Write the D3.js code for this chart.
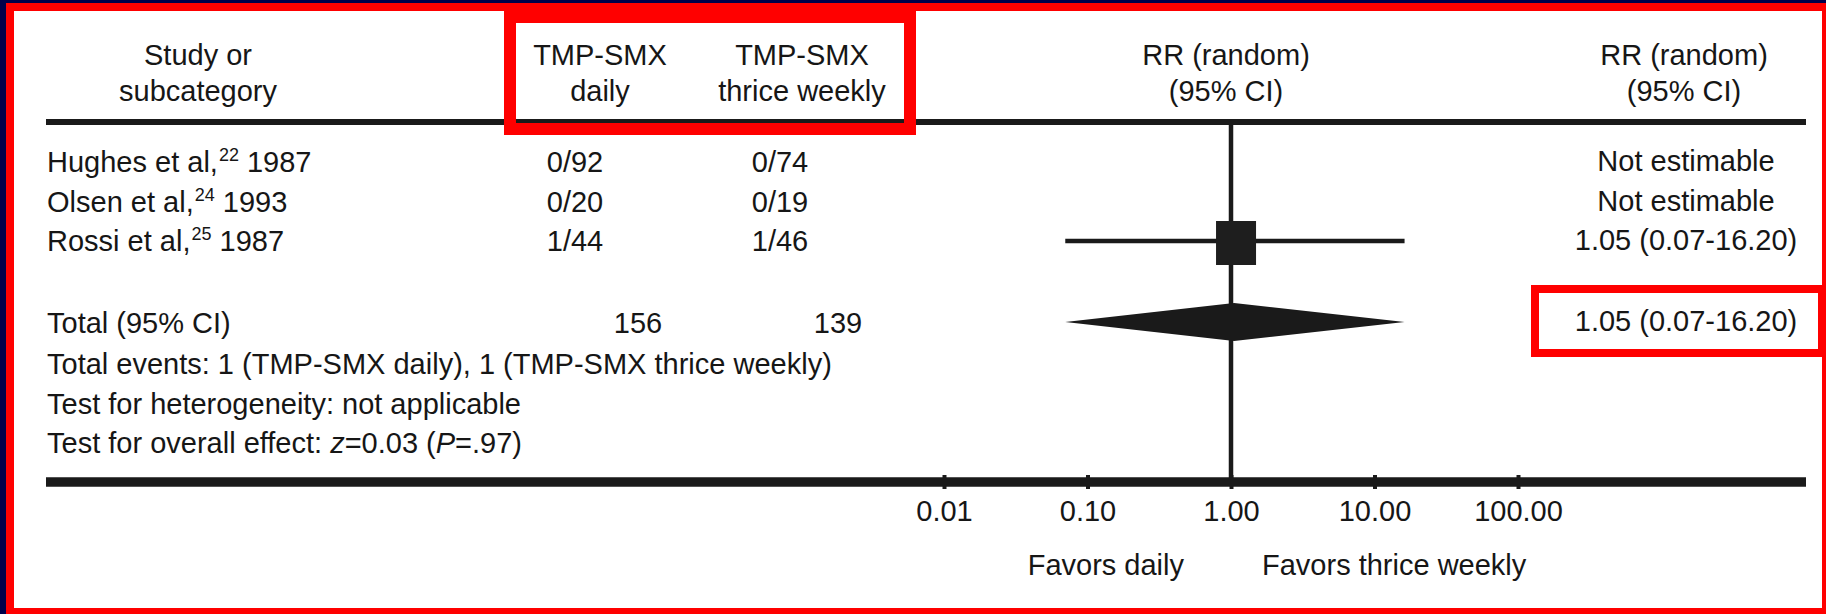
<!DOCTYPE html>
<html>
<head>
<meta charset="utf-8">
<script src="https://cdn.jsdelivr.net/npm/d3@7"></script>
<style>
  body { margin: 0; background: #fff; }
  #forestDiv text { font-family: "Liberation Sans", Arial, sans-serif; fill: #161616; }
</style>
</head>
<body>
<div id="forestDiv"></div>
<script>
// study rows
var studyNames   = ["Hughes et al,", "Olsen et al,", "Rossi et al,"];
var studyRefs    = ["22", "24", "25"];
var studyYears   = ["1987", "1993", "1987"];
var dailyEvents  = [0, 0, 1];
var dailyTotals  = [92, 20, 44];
var weeklyEvents = [0, 0, 1];
var weeklyTotals = [74, 19, 46];
var studyRR      = [null, null, 1.05];
var studyLow     = [null, null, 0.07];
var studyHigh    = [null, null, 16.20];

// pooled estimate
var totalRR   = 1.05;
var totalLow  = 0.07;
var totalHigh = 16.20;

var axisTicks = [0.01, 0.1, 1, 10, 100];
var favorLabels = ["Favors daily", "Favors thrice weekly"];
var footLines = [
    "Total events: 1 (TMP-SMX daily), 1 (TMP-SMX thrice weekly)",
    "Test for heterogeneity: not applicable",
    "Test for overall effect: _z_=0.03 (_P_=.97)"
];

var outerWidth = 1826, outerHeight = 614;
var fontSize = 29;
var f2 = d3.format(".2f");

var svg = d3.select("#forestDiv")
    .append("svg")
    .attr("width", outerWidth)
    .attr("height", outerHeight);

// frame: navy edge, red border, white panel
svg.append("rect").attr("width", outerWidth).attr("height", outerHeight).style("fill", "#00004a");
svg.append("rect").attr("x", 6).attr("y", 3).attr("width", outerWidth - 6).attr("height", outerHeight - 3).style("fill", "#ff0000");
svg.append("rect").attr("x", 14).attr("y", 11).attr("width", 1822 - 14).attr("height", 608 - 11).style("fill", "#fff");

// log scale for risk ratio
var x = d3.scaleLog()
    .domain([0.01, 100])
    .range([944, 1518]);

var rowY = d3.scalePoint()
    .domain(d3.range(studyNames.length))
    .range([162, 241]);

var totalY = 322;

function addText(tx, ty, str, anchor) {
    return svg.append("text")
        .attr("x", tx)
        .attr("y", ty)
        .attr("text-anchor", anchor || "middle")
        .style("font-size", fontSize + "px")
        .text(str);
}

// header
addText(198, 65, "Study or");
addText(198, 101, "subcategory");
addText(600, 65, "TMP-SMX");
addText(600, 101, "daily");
addText(802, 65, "TMP-SMX");
addText(802, 101, "thrice weekly");
addText(x(1) - 5, 65, "RR (random)");
addText(x(1) - 5, 101, "(95% CI)");
addText(1684, 65, "RR (random)");
addText(1684, 101, "(95% CI)");

// rules
svg.append("line").attr("x1", 46).attr("x2", 1806).attr("y1", 122).attr("y2", 122)
    .style("stroke", "#1a1a1a").style("stroke-width", 6);
svg.append("line").attr("x1", 46).attr("x2", 1806).attr("y1", 482).attr("y2", 482)
    .style("stroke", "#1a1a1a").style("stroke-width", 9.5);

// line of no effect
svg.append("line")
    .attr("x1", x(1)).attr("x2", x(1))
    .attr("y1", 124).attr("y2", 478)
    .style("stroke", "#1a1a1a").style("stroke-width", 4.5);

// study labels with superscript refs
var rows = d3.range(studyNames.length);

var labels = svg.selectAll(".studyLabel")
    .data(rows)
    .enter().append("text")
    .attr("class", "studyLabel")
    .attr("x", 47)
    .attr("y", function(i) { return rowY(i) + 10; })
    .style("font-size", fontSize + "px");
labels.append("tspan").text(function(i) { return studyNames[i]; });
labels.append("tspan")
    .attr("dx", 1)
    .attr("dy", -11)
    .style("font-size", "18px")
    .text(function(i) { return studyRefs[i]; });
labels.append("tspan")
    .attr("dy", 11)
    .text(function(i) { return " " + studyYears[i]; });

svg.selectAll(".dailyCell")
    .data(rows)
    .enter().append("text")
    .attr("class", "dailyCell")
    .attr("x", 575)
    .attr("y", function(i) { return rowY(i) + 10; })
    .attr("text-anchor", "middle")
    .style("font-size", fontSize + "px")
    .text(function(i) { return dailyEvents[i] + "/" + dailyTotals[i]; });

svg.selectAll(".weeklyCell")
    .data(rows)
    .enter().append("text")
    .attr("class", "weeklyCell")
    .attr("x", 780)
    .attr("y", function(i) { return rowY(i) + 10; })
    .attr("text-anchor", "middle")
    .style("font-size", fontSize + "px")
    .text(function(i) { return weeklyEvents[i] + "/" + weeklyTotals[i]; });

svg.selectAll(".rrCell")
    .data(rows)
    .enter().append("text")
    .attr("class", "rrCell")
    .attr("x", 1686)
    .attr("y", function(i) { return rowY(i) + 9; })
    .attr("text-anchor", "middle")
    .style("font-size", fontSize + "px")
    .text(function(i) {
        if (studyRR[i] == null) return "Not estimable";
        return f2(studyRR[i]) + " (" + f2(studyLow[i]) + "-" + f2(studyHigh[i]) + ")";
    });

// confidence intervals and boxes, only estimable studies
var estimable = rows.filter(function(i) { return studyRR[i] != null; });

svg.selectAll(".ciLine")
    .data(estimable)
    .enter().append("line")
    .attr("class", "ciLine")
    .attr("x1", function(i) { return x(studyLow[i]); })
    .attr("x2", function(i) { return x(studyHigh[i]); })
    .attr("y1", function(i) { return rowY(i); })
    .attr("y2", function(i) { return rowY(i); })
    .style("stroke", "#1a1a1a")
    .style("stroke-width", 4.5);

svg.selectAll(".studyBox")
    .data(estimable)
    .enter().append("rect")
    .attr("class", "studyBox")
    .attr("x", function(i) { return x(studyRR[i]) - 18; })
    .attr("y", function(i) { return rowY(i) - 20; })
    .attr("width", 40)
    .attr("height", 44)
    .style("fill", "#1e1e1e");

// total row
addText(47, totalY + 11, "Total (95% CI)", "start");
addText(638, totalY + 11, d3.sum(dailyTotals));
addText(838, totalY + 11, d3.sum(weeklyTotals));
addText(1686, totalY + 9, f2(totalRR) + " (" + f2(totalLow) + "-" + f2(totalHigh) + ")");

svg.append("path")
    .attr("d", "M" + x(totalLow) + "," + totalY +
               "L" + x(totalRR) + "," + (totalY - 19) +
               "L" + x(totalHigh) + "," + totalY +
               "L" + x(totalRR) + "," + (totalY + 19) + "Z")
    .style("fill", "#1a1a1a");

// footnotes, _x_ means italic
footLines.forEach(function(line, k) {
    var t = svg.append("text")
        .attr("x", 47)
        .attr("y", 374 + k * 39.7)
        .style("font-size", fontSize + "px");
    line.split("_").forEach(function(part, j) {
        t.append("tspan")
            .style("font-style", j % 2 ? "italic" : "normal")
            .text(part);
    });
});

// axis
var xAxis = d3.axisBottom(x)
    .tickValues(axisTicks)
    .tickFormat(f2)
    .tickSize(14);

var axisG = svg.append("g")
    .attr("transform", "translate(0,475)")
    .call(xAxis);
axisG.select(".domain").remove();
axisG.selectAll(".tick line")
    .style("stroke", "#1a1a1a")
    .style("stroke-width", 4);
axisG.selectAll(".tick text")
    .attr("y", 46)
    .attr("dy", null)
    .style("font-size", fontSize + "px")
    .style("font-family", "\"Liberation Sans\", Arial, sans-serif");

addText(1184, 575, favorLabels[0], "end");
addText(1262, 575, favorLabels[1], "start");

// red highlight boxes
svg.append("rect")
    .attr("x", 510).attr("y", 17)
    .attr("width", 400).attr("height", 112)
    .style("fill", "none")
    .style("stroke", "#ff0000")
    .style("stroke-width", 12);

svg.append("rect")
    .attr("x", 1535).attr("y", 289)
    .attr("width", 287).attr("height", 64)
    .style("fill", "none")
    .style("stroke", "#ff0000")
    .style("stroke-width", 8);
</script>
</body>
</html>
